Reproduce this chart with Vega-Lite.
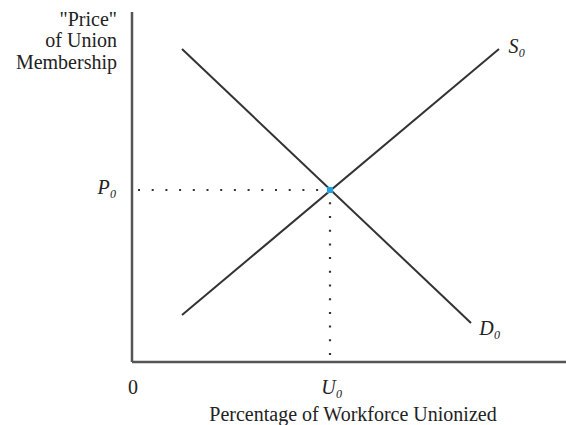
{
  "$schema": "https://vega.github.io/schema/vega-lite/v6.json",
  "width": 434,
  "height": 350,
  "autosize": {"type": "none"},
  "padding": {"left": 132, "top": 12, "right": 0, "bottom": 63},
  "background": "white",
  "config": {"view": {"stroke": null}},
  "datasets": {
    "axes": [
      {"x": 0, "y": 0, "x2": 434, "y2": 0},
      {"x": 0, "y": 0, "x2": 0, "y2": 350}
    ],
    "curves": [
      {"curve": "D0", "x": 50, "y": 313},
      {"curve": "D0", "x": 339, "y": 39},
      {"curve": "S0", "x": 50, "y": 47},
      {"curve": "S0", "x": 367, "y": 313}
    ],
    "guides": [
      {"x": 6, "y": 172, "x2": 198, "y2": 172},
      {"x": 198, "y": 7, "x2": 198, "y2": 172}
    ],
    "equilibrium": [
      {"x": 198, "y": 172}
    ],
    "labels": [
      {"label": "P₀", "x": -25, "y": 174, "kind": "symbol"},
      {"label": "0", "x": 1, "y": -26, "kind": "plain"},
      {"label": "U₀", "x": 200, "y": -26, "kind": "symbol"},
      {"label": "S₀", "x": 385, "y": 315, "kind": "symbol"},
      {"label": "D₀", "x": 358, "y": 33, "kind": "symbol"},
      {"label": "Percentage of Workforce Unionized", "x": 221, "y": -53, "kind": "plain"},
      {"label": "\"Price\"", "x": -15, "y": 342, "kind": "ytitle"},
      {"label": "of Union", "x": -15, "y": 321, "kind": "ytitle"},
      {"label": "Membership", "x": -15, "y": 299, "kind": "ytitle"}
    ]
  },
  "layer": [
    {
      "data": {"name": "axes"},
      "mark": {"type": "rule", "stroke": "#555555", "strokeWidth": 2.5, "clip": false},
      "encoding": {
        "x": {"field": "x", "type": "quantitative", "scale": {"domain": [0, 434], "nice": false, "zero": false}, "axis": null},
        "y": {"field": "y", "type": "quantitative", "scale": {"domain": [0, 350], "nice": false, "zero": false}, "axis": null},
        "x2": {"field": "x2"},
        "y2": {"field": "y2"}
      }
    },
    {
      "data": {"name": "curves"},
      "mark": {"type": "line", "stroke": "#333333", "strokeWidth": 2},
      "encoding": {
        "x": {"field": "x", "type": "quantitative"},
        "y": {"field": "y", "type": "quantitative"},
        "detail": {"field": "curve"}
      }
    },
    {
      "data": {"name": "guides"},
      "mark": {"type": "rule", "stroke": "#333333", "strokeWidth": 2.2, "strokeDash": [2, 11.7], "clip": false},
      "encoding": {
        "x": {"field": "x", "type": "quantitative"},
        "y": {"field": "y", "type": "quantitative"},
        "x2": {"field": "x2"},
        "y2": {"field": "y2"}
      }
    },
    {
      "data": {"name": "equilibrium"},
      "mark": {"type": "square", "filled": true, "color": "#1AA3E6", "size": 36, "opacity": 1},
      "encoding": {
        "x": {"field": "x", "type": "quantitative"},
        "y": {"field": "y", "type": "quantitative"}
      }
    },
    {
      "data": {"name": "labels"},
      "transform": [{"filter": "datum.kind === 'symbol'"}],
      "mark": {"type": "text", "font": "Liberation Serif", "fontSize": 20, "fontStyle": "italic", "color": "#222222", "align": "center", "baseline": "middle", "clip": false},
      "encoding": {
        "x": {"field": "x", "type": "quantitative"},
        "y": {"field": "y", "type": "quantitative"},
        "text": {"field": "label"}
      }
    },
    {
      "data": {"name": "labels"},
      "transform": [{"filter": "datum.kind === 'plain'"}],
      "mark": {"type": "text", "font": "Liberation Serif", "fontSize": 20, "color": "#222222", "align": "center", "baseline": "middle", "clip": false},
      "encoding": {
        "x": {"field": "x", "type": "quantitative"},
        "y": {"field": "y", "type": "quantitative"},
        "text": {"field": "label"}
      }
    },
    {
      "data": {"name": "labels"},
      "transform": [{"filter": "datum.kind === 'ytitle'"}],
      "mark": {"type": "text", "font": "Liberation Serif", "fontSize": 20, "color": "#222222", "align": "right", "baseline": "middle", "clip": false},
      "encoding": {
        "x": {"field": "x", "type": "quantitative"},
        "y": {"field": "y", "type": "quantitative"},
        "text": {"field": "label"}
      }
    }
  ]
}
